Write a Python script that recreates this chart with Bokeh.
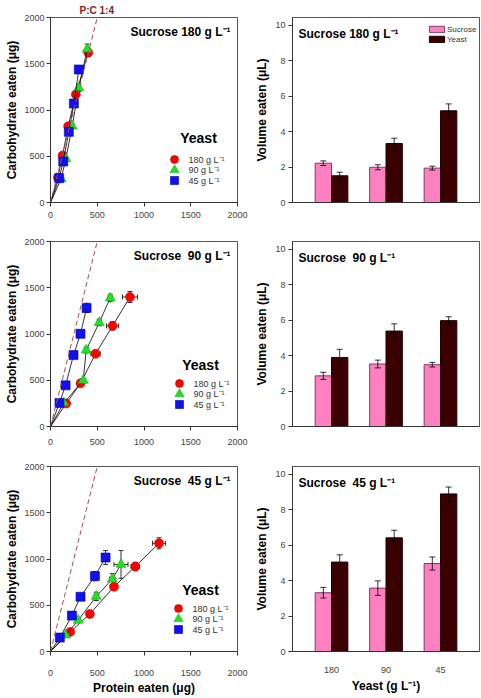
from bokeh.plotting import figure
from bokeh.models import (ColumnDataSource, Whisker, TeeHead, Slope, Label, Legend,
                          LegendItem, FixedTicker, Range1d, FactorRange)
from bokeh.core.properties import value
from bokeh.layouts import row, column
from bokeh.transform import dodge
from bokeh.embed import file_html
from bokeh.resources import INLINE

FONT = "Liberation Sans"

# ------------------------------------------------------------------ data
YEAST_LEVELS = ["180", "90", "45"]
YEAST_LABELS = ["180 g L\u207b\u00b9", "90 g L\u207b\u00b9", "45 g L\u207b\u00b9"]
PANEL_TITLES = ["Sucrose 180 g L\u207b\u00b9", "Sucrose\u00a0 90 g L\u207b\u00b9",
                "Sucrose\u00a0 45 g L\u207b\u00b9"]
AXIS_TICKS = [0, 500, 1000, 1500, 2000]
VOL_TICKS = [0, 2, 4, 6, 8, 10]
PC_RATIO = (1, 4)  # P:C 1:4

# Sucrose 180 g/L : protein (P) and carbohydrate (C) eaten, with errors
S180_Y180_P = [79, 129, 189, 271, 404]
S180_Y180_C = [270, 508, 825, 1168, 1622]
S180_Y180_PE = [5, 8, 10, 12, 20]
S180_Y180_CE = [15, 20, 30, 35, 45]
S180_Y90_P = [114, 164, 232, 303, 393]
S180_Y90_C = [256, 472, 825, 1240, 1658]
S180_Y90_PE = [5, 8, 10, 12, 15]
S180_Y90_CE = [10, 20, 25, 40, 55]
S180_Y45_P = [93, 136, 196, 250, 303]
S180_Y45_C = [263, 443, 764, 1070, 1438]
S180_Y45_PE = [5, 6, 8, 10, 12]
S180_Y45_CE = [15, 20, 30, 40, 40]

# Sucrose 90 g/L
S90_Y180_P = [168, 321, 482, 664, 850]
S90_Y180_C = [248, 467, 786, 1088, 1400]
S90_Y180_PE = [15, 25, 50, 65, 80]
S90_Y180_CE = [15, 20, 30, 45, 60]
S90_Y90_P = [143, 350, 382, 521, 639]
S90_Y90_C = [255, 499, 826, 1124, 1389]
S90_Y90_PE = [8, 15, 20, 20, 25]
S90_Y90_CE = [10, 20, 30, 35, 40]
S90_Y45_P = [96, 161, 246, 321, 386]
S90_Y45_C = [255, 445, 772, 1002, 1282]
S90_Y45_PE = [8, 10, 10, 12, 15]
S90_Y45_CE = [10, 15, 20, 30, 50]

# Sucrose 45 g/L
S45_Y180_P = [211, 421, 679, 907, 1161]
S45_Y180_C = [212, 406, 700, 919, 1170]
S45_Y180_PE = [15, 20, 30, 45, 70]
S45_Y180_CE = [10, 15, 25, 45, 60]
S45_Y90_P = [161, 296, 489, 661, 754]
S45_Y90_C = [176, 337, 596, 783, 941]
S45_Y90_PE = [10, 15, 20, 30, 75]
S45_Y90_CE = [10, 20, 45, 60, 150]
S45_Y45_P = [100, 229, 321, 475, 589]
S45_Y45_C = [151, 388, 592, 815, 1016]
S45_Y45_PE = [8, 12, 12, 20, 30]
S45_Y45_CE = [10, 15, 20, 50, 75]

# Volume eaten (uL) from sucrose and yeast feeders, per yeast level
S180_SUC = [2.22, 1.99, 1.94]
S180_SUC_E = [0.13, 0.14, 0.11]
S180_YST = [1.51, 3.33, 5.18]
S180_YST_E = [0.20, 0.30, 0.39]
S90_SUC = [2.86, 3.53, 3.49]
S90_SUC_E = [0.20, 0.22, 0.13]
S90_YST = [3.90, 5.39, 5.98]
S90_YST_E = [0.46, 0.41, 0.22]
S45_SUC = [3.32, 3.58, 4.97]
S45_SUC_E = [0.30, 0.41, 0.37]
S45_YST = [5.05, 6.42, 8.90]
S45_YST_E = [0.41, 0.43, 0.39]

# ------------------------------------------------------------------ style
MARKERS = ["circle", "triangle", "square"]
COLORS = ["#FF0000", "#22E022", "#1010F0"]
EDGES = ["#D00000", "#10B010", "#0000B0"]
PINK, PINK_EDGE = "#FF80C0", "#7D3C62"
DARK, DARK_EDGE = "#3B0000", "#1A0000"
FW, FH = 187, 185
XMAX = 2000
YMAX = 2000
VMAX = 10.45
PAD = 0.216

ROWS = [  # top border, bottom border, x tick standoff
    (17, 22, 5),
    (17, 23, 8),
    (17, 46, 14),
]
# legend key placement inside the scatter frames (pixels from frame left / top)
LEG_KEY_X = [124, 129, 128]
LEG_KEY_Y = [142, 152.5, 163]
LEG_TEXT_DX = 14
LEG_TITLE_X = [148, 150, 150]
LEG_TITLE_Y = [120, 123, 123]


def style_axes(p):
    for ax in p.axis:
        ax.axis_line_color = "#333333"
        ax.major_tick_line_color = "#333333"
        ax.major_tick_out = 4
        ax.major_tick_in = 0
        ax.minor_tick_line_color = None
        ax.major_label_text_font = FONT
        ax.major_label_text_font_size = "9px"
        ax.major_label_text_color = "#444444"
        ax.axis_label_text_font = FONT
        ax.axis_label_text_font_size = "12px"
        ax.axis_label_text_font_style = "bold"
        ax.axis_label_text_color = "#000000"
    p.grid.visible = False
    p.outline_line_color = "#555555"
    p.outline_line_width = 1


def fx(px):
    return XMAX * px / FW


def fy(px):
    return YMAX * (1 - px / FH)


def scatter_panel(i, title, series):
    top, bottom, xstand = ROWS[i]
    p = figure(frame_width=FW, frame_height=FH,
               min_border_left=50, min_border_right=13,
               min_border_top=top, min_border_bottom=bottom,
               x_range=Range1d(0, XMAX), y_range=Range1d(0, YMAX),
               output_backend="svg", toolbar_location=None, tools="")
    style_axes(p)
    p.xaxis.ticker = FixedTicker(ticks=AXIS_TICKS)
    p.yaxis.ticker = FixedTicker(ticks=AXIS_TICKS)
    p.xaxis.major_label_standoff = xstand
    p.yaxis.major_label_standoff = 2
    p.yaxis.axis_label = "Carbohydrate eaten (\u03bcg)"
    p.yaxis.axis_label_standoff = 2
    if i == 2:
        p.xaxis.axis_label = "Protein eaten (\u03bcg)"
        p.xaxis.axis_label_standoff = 2

    p.add_layout(Slope(gradient=PC_RATIO[1] / PC_RATIO[0], y_intercept=0,
                       line_color="#A0524D", line_dash="5 3", line_width=1))
    if i == 0:
        p.title.text = "P:C %d:%d" % PC_RATIO
        p.title.align = "left"
        p.title.offset = 29
        p.title.standoff = 0
        p.title.vertical_align = "top"
        p.title.text_font = FONT
        p.title.text_font_size = "10px"
        p.title.text_font_style = "bold"
        p.title.text_color = "#8B1A1A"

    for (P, C, PE, CE), marker, color, edge in zip(series, MARKERS, COLORS, EDGES):
        src = ColumnDataSource(dict(
            p=P, c=C,
            p_lo=[a - e for a, e in zip(P, PE)], p_hi=[a + e for a, e in zip(P, PE)],
            c_lo=[a - e for a, e in zip(C, CE)], c_hi=[a + e for a, e in zip(C, CE)]))
        p.line([0] + P, [0] + C, line_color="#000000", line_width=0.8)
        for dim, base, lo, hi in (("height", "p", "c_lo", "c_hi"), ("width", "c", "p_lo", "p_hi")):
            p.add_layout(Whisker(source=src, base=base, lower=lo, upper=hi, dimension=dim,
                                 line_color="#000000", line_width=0.8,
                                 upper_head=TeeHead(size=5, line_width=0.8),
                                 lower_head=TeeHead(size=5, line_width=0.8)))
        p.scatter("p", "c", source=src, marker=marker, size=10 if marker == "triangle" else 9,
                  fill_color=color, line_color=edge, line_width=0.6)

    # legend (Yeast levels)
    kx = fx(LEG_KEY_X[i])
    tx = fx(LEG_KEY_X[i] + LEG_TEXT_DX)
    leg = ColumnDataSource(dict(
        x=[kx] * 3, tx=[tx] * 3, y=[fy(v) for v in LEG_KEY_Y],
        marker=MARKERS, color=COLORS, edge=EDGES, label=YEAST_LABELS,
        size=[9 if m == "triangle" else 8 for m in MARKERS]))
    p.scatter("x", "y", source=leg, marker="marker", size="size",
              fill_color="color", line_color="edge", line_width=0.6)
    p.text("tx", "y", text="label", source=leg, text_font=value(FONT),
           text_font_size="9px", text_color="#333333", text_baseline="middle",
           text_align="left")
    p.add_layout(Label(x=fx(LEG_TITLE_X[i]), y=fy(LEG_TITLE_Y[i]), text="Yeast",
                       text_align="center", text_baseline="middle", text_font=FONT,
                       text_font_size="14px", text_font_style="bold", text_color="#000000"))

    p.add_layout(Label(x=fx(180), y=fy(14), text=title,
                       text_align="right", text_baseline="middle", text_font=FONT,
                       text_font_size="12px", text_font_style="bold", text_color="#000000"))
    return p


def bar_panel(i, title, suc, suc_e, yst, yst_e):
    top, bottom, _ = ROWS[i]
    xr = FactorRange(*YEAST_LEVELS, range_padding=PAD, range_padding_units="absolute")
    p = figure(frame_width=FW, frame_height=FH,
               min_border_left=42, min_border_right=2,
               min_border_top=top, min_border_bottom=bottom,
               x_range=xr, y_range=Range1d(0, VMAX),
               output_backend="svg", toolbar_location=None, tools="")
    style_axes(p)
    p.yaxis.ticker = FixedTicker(ticks=VOL_TICKS)
    p.yaxis.major_label_standoff = 3
    p.yaxis.axis_label = "Volume eaten (\u03bcL)"
    p.yaxis.axis_label_standoff = 3
    p.xaxis.major_tick_line_color = None
    p.xaxis.major_tick_out = 0
    p.xaxis.major_label_standoff = 15
    if i == 2:
        p.xaxis.axis_label = "Yeast (g L\u207b\u00b9)"
        p.xaxis.axis_label_standoff = 3
    else:
        p.xaxis.major_label_text_color = None

    src = ColumnDataSource(dict(
        cat=YEAST_LEVELS, suc=suc, yst=yst,
        suc_lo=[a - e for a, e in zip(suc, suc_e)], suc_hi=[a + e for a, e in zip(suc, suc_e)],
        yst_lo=[a - e for a, e in zip(yst, yst_e)], yst_hi=[a + e for a, e in zip(yst, yst_e)]))
    r1 = p.vbar(x=dodge("cat", -0.15, range=xr), top="suc", width=0.3, source=src,
                fill_color=PINK, line_color=PINK_EDGE, line_width=1)
    r2 = p.vbar(x=dodge("cat", 0.15, range=xr), top="yst", width=0.3, source=src,
                fill_color=DARK, line_color=DARK_EDGE, line_width=1)
    for off, lo, hi in ((-0.15, "suc_lo", "suc_hi"), (0.15, "yst_lo", "yst_hi")):
        p.add_layout(Whisker(source=src, base=dodge("cat", off, range=xr), lower=lo, upper=hi,
                             line_color="#000000", line_width=0.8, level="overlay",
                             upper_head=TeeHead(size=6, line_width=0.8),
                             lower_head=TeeHead(size=6, line_width=0.8)))
    if i == 0:
        legend = Legend(items=[LegendItem(label="Sucrose", renderers=[r1]),
                               LegendItem(label="Yeast", renderers=[r2])],
                        location=(135, 158), glyph_width=19, glyph_height=8, spacing=0,
                        label_height=10, label_standoff=1, padding=0, margin=0,
                        label_text_font=FONT, label_text_font_size="8px",
                        label_text_color="#333333",
                        background_fill_alpha=0, border_line_color=None)
        p.add_layout(legend)
    p.add_layout(Label(x=-PAD + 6 / FW * (3 + 2 * PAD), y=VMAX - 16 * VMAX / FH,
                       text=title, text_align="left", text_baseline="middle", text_font=FONT,
                       text_font_size="12px", text_font_style="bold", text_color="#000000"))
    return p


SCATTER_SERIES = [
    [(S180_Y180_P, S180_Y180_C, S180_Y180_PE, S180_Y180_CE),
     (S180_Y90_P, S180_Y90_C, S180_Y90_PE, S180_Y90_CE),
     (S180_Y45_P, S180_Y45_C, S180_Y45_PE, S180_Y45_CE)],
    [(S90_Y180_P, S90_Y180_C, S90_Y180_PE, S90_Y180_CE),
     (S90_Y90_P, S90_Y90_C, S90_Y90_PE, S90_Y90_CE),
     (S90_Y45_P, S90_Y45_C, S90_Y45_PE, S90_Y45_CE)],
    [(S45_Y180_P, S45_Y180_C, S45_Y180_PE, S45_Y180_CE),
     (S45_Y90_P, S45_Y90_C, S45_Y90_PE, S45_Y90_CE),
     (S45_Y45_P, S45_Y45_C, S45_Y45_PE, S45_Y45_CE)],
]
BAR_SERIES = [
    (S180_SUC, S180_SUC_E, S180_YST, S180_YST_E),
    (S90_SUC, S90_SUC_E, S90_YST, S90_YST_E),
    (S45_SUC, S45_SUC_E, S45_YST, S45_YST_E),
]

rows = []
for i in range(3):
    left = scatter_panel(i, PANEL_TITLES[i], SCATTER_SERIES[i])
    right = bar_panel(i, PANEL_TITLES[i], *BAR_SERIES[i])
    rows.append(row(left, right))

layout = column(*rows)
open("out.html", "w").write(file_html(layout, INLINE))
